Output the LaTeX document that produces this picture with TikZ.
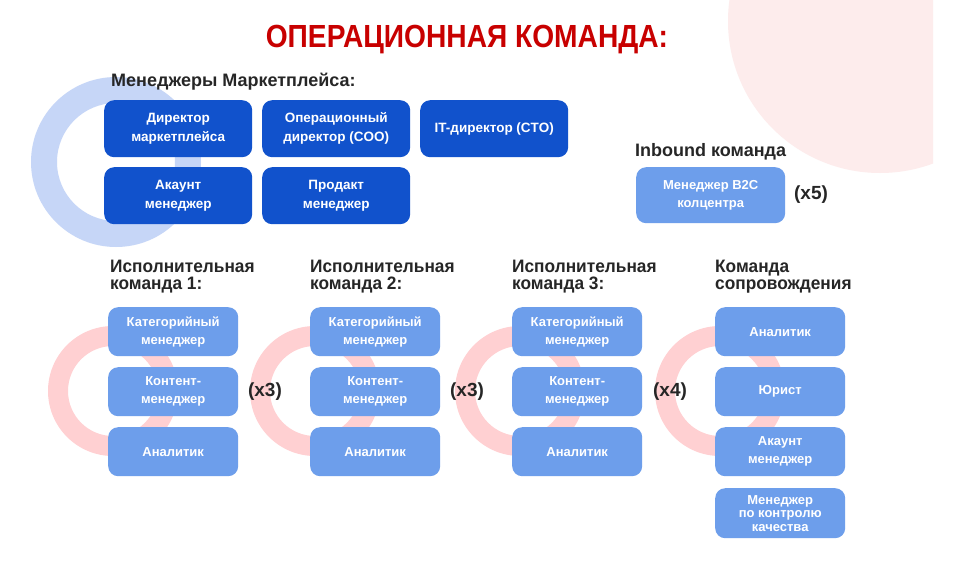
\documentclass[tikz,border=0pt]{standalone}
\usepackage{fontspec}
\setmainfont{Liberation Sans}
\newfontfamily\titlefont[FakeStretch=0.88]{Liberation Sans}
\newfontfamily\headfont[FakeStretch=0.96]{Liberation Sans}
\definecolor{dblue}{RGB}{17,82,204}
\definecolor{lblue}{RGB}{109,158,235}
\definecolor{ringblue}{RGB}{198,214,247}
\definecolor{ringpink}{RGB}{255,208,210}
\definecolor{bigpink}{RGB}{253,236,236}
\definecolor{titlered}{RGB}{200,0,0}
\definecolor{darktext}{RGB}{38,38,38}
\begin{document}
\begin{tikzpicture}[x=1pt,y=-1pt,
  dbox/.style={fill=dblue,rounded corners=10pt,minimum width=148pt,minimum height=57pt,
    anchor=north west,text=white,align=center,inner sep=2pt,
    font=\bfseries\fontsize{13.5}{19}\selectfont},
  lbox/.style={fill=lblue,rounded corners=10pt,minimum width=130pt,minimum height=49pt,
    anchor=north west,text=white,align=center,inner sep=2pt,
    font=\bfseries\fontsize{13}{18}\selectfont},
  sect/.style={anchor=west,text=darktext,inner sep=0pt,font=\bfseries\fontsize{18}{18}\selectfont},
  head/.style={anchor=north west,text=darktext,inner sep=0pt,align=left,font=\headfont\bfseries\fontsize{18}{16.5}\selectfont},
  mult/.style={text=darktext,inner sep=0pt,font=\bfseries\fontsize{19}{19}\selectfont},
  pinkring/.style={fill=ringpink,even odd rule}
]
\useasboundingbox (0,0) rectangle (953,579);
\fill[white] (0,0) rectangle (953,579);
% decorative shapes
\begin{scope}
\clip (0,0) rectangle (933,579);
\fill[bigpink] (880,21) circle (152pt);
\end{scope}
\fill[ringblue,even odd rule] (116,162) circle (85pt) (116,162) circle (59pt);
\fill[pinkring] (113,391) circle (65pt) (113,391) circle (45pt);
\fill[pinkring] (315,391) circle (65pt) (315,391) circle (45pt);
\fill[pinkring] (520,391) circle (65pt) (520,391) circle (45pt);
\fill[pinkring] (720,391) circle (65pt) (720,391) circle (45pt);

% title
\node[text=titlered,font=\titlefont\bfseries\fontsize{32}{32}\selectfont,inner sep=0pt,anchor=base] (title) at (467,47) {ОПЕРАЦИОННАЯ КОМАНДА:};

% managers
\node[sect] (mgr) at (111,82) {Менеджеры Маркетплейса:};
\node[dbox] (dir) at (104,100) {Директор\\маркетплейса};
\node[dbox] (coo) at (262,100) {Операционный\\директор (COO)};
\node[dbox] (cto) at (420,100) {IT-директор (CTO)};
\node[dbox] (acc) at (104,167) {Акаунт\\менеджер};
\node[dbox] (prod) at (262,167) {Продакт\\менеджер};

% inbound
\node[sect] (inb) at (635,152) {Inbound команда};
\node[lbox,minimum width=149pt,minimum height=56pt] (b2c) at (636,167) {Менеджер B2C\\колцентра};
\node[mult] (x5) at (811,195) {(x5)};

% executive teams
\foreach \n/\x in {1/110,2/310,3/512}{
  \node[head] (h\n) at (\x,260) {Исполнительная\\команда \n:};
}
\foreach \n/\x in {1/108,2/310,3/512}{
  \node[lbox] (cat\n) at (\x,307) {Категорийный\\менеджер};
  \node[lbox] (cont\n) at (\x,367) {Контент-\\менеджер};
  \node[lbox] (an\n) at (\x,427) {Аналитик};
}
\node[mult] (x3a) at (265,392) {(x3)};
\node[mult] (x3b) at (467,392) {(x3)};
\node[mult] (x4) at (670,392) {(x4)};

% support team
\node[head] (h4) at (715,260) {Команда\\сопровождения};
\node[lbox] (san) at (715,307) {Аналитик};
\node[lbox] (law) at (715,367) {Юрист};
\node[lbox] (sacc) at (715,427) {Акаунт\\менеджер};
\node[lbox,font=\bfseries\fontsize{13}{13.5}\selectfont,minimum height=50pt] (qc) at (715,488) {Менеджер\\по контролю\\качества};
\end{tikzpicture}
\end{document}
